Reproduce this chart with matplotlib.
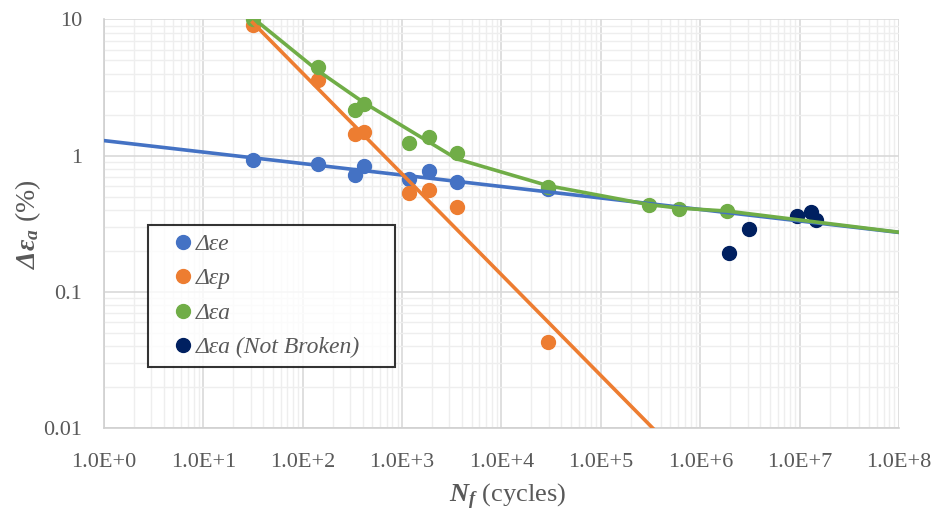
import numpy as np
import matplotlib
matplotlib.use("Agg")
import matplotlib.pyplot as plt
from matplotlib.ticker import LogLocator, FixedLocator, FuncFormatter, NullFormatter

plt.rcParams['font.family'] = ['Liberation Serif', 'DejaVu Serif']
plt.rcParams['mathtext.fontset'] = 'custom'
plt.rcParams['mathtext.rm'] = 'Liberation Serif'
plt.rcParams['mathtext.it'] = 'Liberation Serif:italic'
plt.rcParams['mathtext.bf'] = 'Liberation Serif:italic:bold'

# measured data (cycles, strain %)
n_e = [31.4, 141, 336, 416, 1172, 1876, 3591, 29400]
de_e = [0.93, 0.87, 0.725, 0.845, 0.675, 0.767, 0.637, 0.573]

n_p = [31.4, 141, 336, 416, 1172, 1876, 3591, 29400]
de_p = [9.16, 3.6, 1.44, 1.48, 0.529, 0.56, 0.422, 0.043]

n_a = [31.4, 141, 336, 416, 1172, 1876, 3591, 29400, 305000, 607000, 1870000]
de_a = [10.1, 4.45, 2.17, 2.40, 1.23, 1.36, 1.05, 0.59, 0.435, 0.406, 0.395]

n_nb = [1950000, 3120000, 9500000, 12900000, 14600000]
de_nb = [0.193, 0.288, 0.361, 0.384, 0.337]

# fitted lines
fit_e_n = [1, 1e8]
fit_e = [1.29, 0.273]
fit_p_n = [31.4, 332000]
fit_p = [9.5, 0.01]
fit_a_n = [31.6, 142, 413, 3565, 29400, 305000, 611000, 1860000, 1e8]
fit_a = [10.26, 4.21, 2.45, 0.946, 0.602, 0.437, 0.412, 0.392, 0.274]

x_ticks = [1, 1e1, 1e2, 1e3, 1e4, 1e5, 1e6, 1e7, 1e8]
y_ticks = [0.01, 0.1, 1, 10]

blue = '#4472C4'
orange = '#ED7D31'
green = '#70AD47'
navy = '#002060'
gray = '#595959'

fig = plt.figure(figsize=(9.36, 5.18), dpi=100)
ax = fig.add_axes([0.111, 0.1737, 0.8495, 0.7887])

ms = 10
ax.plot(n_e, de_e, 'o', color=blue, ms=ms, label='Δεe', zorder=3)
ax.plot(n_p, de_p, 'o', color=orange, ms=ms, label='Δεp', zorder=3)
ax.plot(n_a, de_a, 'o', color=green, ms=ms, label='Δεa', zorder=3)
ax.plot(n_nb, de_nb, 'o', color=navy, ms=ms, label='Δεa (Not Broken)', zorder=3)

ax.plot(fit_e_n, fit_e, '-', color=blue, lw=2.6, zorder=4)
ax.plot(fit_a_n, fit_a, '-', color=green, lw=2.6, zorder=4)
ax.plot(fit_p_n, fit_p, '-', color=orange, lw=2.6, zorder=4)

ax.set_xscale('log')
ax.set_yscale('log')
ax.set_xlim(1, 1e8)
ax.set_ylim(0.01, 10)

ax.xaxis.set_major_locator(FixedLocator(x_ticks))
ax.xaxis.set_minor_locator(LogLocator(base=10, subs=np.arange(2, 10), numticks=20))
ax.yaxis.set_major_locator(FixedLocator(y_ticks))
ax.yaxis.set_minor_locator(LogLocator(base=10, subs=np.arange(2, 10), numticks=20))
ax.xaxis.set_major_formatter(FuncFormatter(lambda v, p: '1.0E+%d' % round(np.log10(v))))
ax.yaxis.set_major_formatter(FuncFormatter(lambda v, p: '%g' % v))
ax.xaxis.set_minor_formatter(NullFormatter())
ax.yaxis.set_minor_formatter(NullFormatter())

ax.grid(True, which='major', color='#d9d9d9', lw=1.2, zorder=0)
ax.grid(True, which='minor', color='#eeeeee', lw=1.0, zorder=0)
ax.set_axisbelow(True)
for s in ['top', 'right']:
    ax.spines[s].set_visible(False)
for s in ['left', 'bottom']:
    ax.spines[s].set_color('#d0d0d0')
    ax.spines[s].set_linewidth(1.2)
ax.tick_params(which='both', length=0, labelsize=16, labelcolor=gray)
ax.tick_params(axis='x', pad=18)
ax.tick_params(axis='y', pad=15.5)

ax.set_xlabel(r'$\mathbf{N_f}$ (cycles)', fontsize=19, color=gray, labelpad=7, x=0.508)
ax.set_ylabel(r'$\mathbf{\Delta\varepsilon_a}$ (%)', fontsize=20, color=gray, labelpad=0)

leg = ax.legend(loc='upper left', bbox_to_anchor=(0.0553, 0.152, 0.311, 0.345),
                mode='expand', frameon=True, fancybox=False, edgecolor='black',
                prop={'family': 'Liberation Serif', 'style': 'italic', 'size': 17},
                handletextpad=-0.6, handlelength=2.3, borderpad=0.35, labelspacing=0.55,
                borderaxespad=0)
leg.get_frame().set_linewidth(1.5)
for t in leg.get_texts():
    t.set_color(gray)

fig.savefig('out.png', dpi=100)
